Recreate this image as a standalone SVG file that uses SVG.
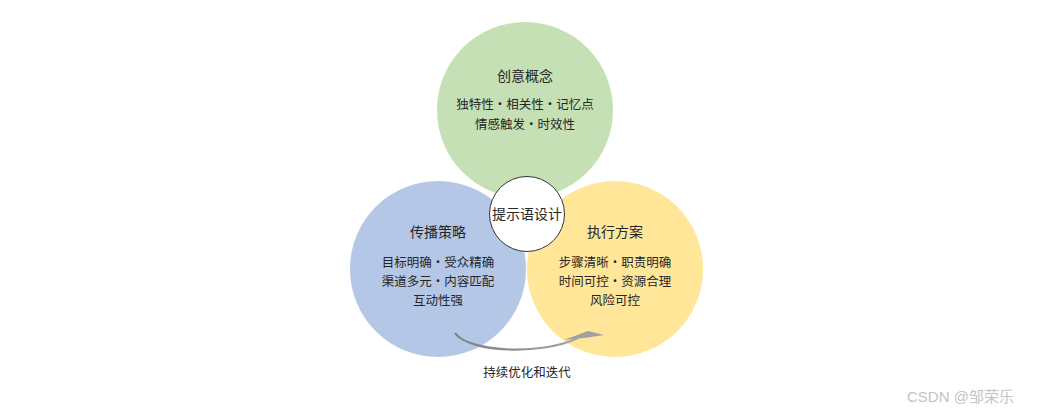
<svg xmlns="http://www.w3.org/2000/svg" width="1050" height="413" viewBox="0 0 1050 413">
<defs>
<style>
.t{font-family:"Noto Sans CJK SC","Liberation Sans",sans-serif;fill:#262626;text-anchor:middle}
.h{font-size:14px}
.b{font-size:12.5px}
.wm{font-family:"Liberation Sans","Noto Sans CJK SC",sans-serif;font-size:15px;fill:#c4c4c4}
</style>
<linearGradient id="ag" x1="0" y1="0" x2="1" y2="0">
<stop offset="0" stop-color="#7f7f7f"/>
<stop offset="1" stop-color="#a6a6a6"/>
</linearGradient>
</defs>
<rect width="1050" height="413" fill="#ffffff"/>
<g id="creative">
<circle cx="525" cy="110" r="88" fill="#c5e0b4"/>
<text class="t h" x="525" y="81">创意概念</text>
<text class="t b" x="525" y="109">独特性・相关性・记忆点</text>
<text class="t b" x="525" y="129">情感触发・时效性</text>
</g>
<g id="spread">
<circle cx="438" cy="269" r="88" fill="#b4c7e7"/>
<text class="t h" x="438" y="237">传播策略</text>
<text class="t b" x="438" y="266.5">目标明确・受众精确</text>
<text class="t b" x="438" y="286">渠道多元・内容匹配</text>
<text class="t b" x="438" y="305">互动性强</text>
</g>
<g id="execute">
<circle cx="615" cy="269" r="88" fill="#ffe699"/>
<text class="t h" x="615" y="237">执行方案</text>
<text class="t b" x="615" y="266.5">步骤清晰・职责明确</text>
<text class="t b" x="615" y="286">时间可控・资源合理</text>
<text class="t b" x="615" y="305">风险可控</text>
</g>
<g id="center">
<circle cx="527" cy="214" r="37.5" fill="#ffffff" stroke="#333333" stroke-width="1"/>
<text class="t h" x="527" y="219" fill="#111">提示语设计</text>
</g>
<g id="connectors">
<path d="M455,333 C468,352 540,356 578,338" fill="none" stroke="url(#ag)" stroke-width="2.2"/>
<polygon points="564,340 588,331 604,335 584,338" fill="#a0a0a0"/>
</g>
<g id="loop-label">
<text class="t b" x="527" y="377">持续优化和迭代</text>
</g>
<text class="wm" x="907" y="402">CSDN @邹荣乐</text>
</svg>
